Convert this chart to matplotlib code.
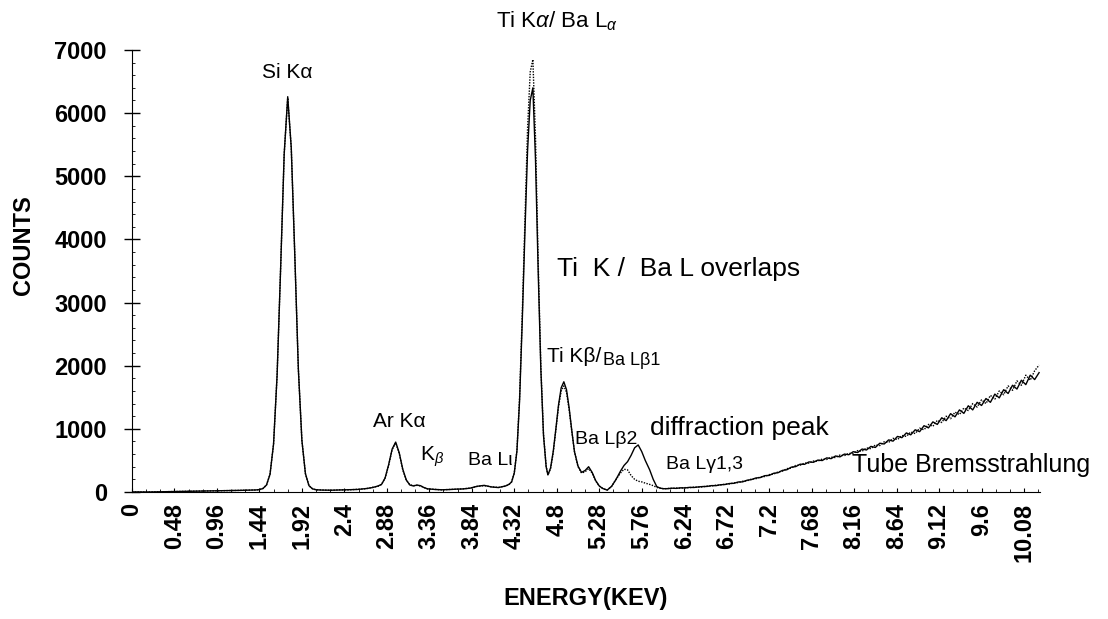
import matplotlib
matplotlib.use('Agg')
import matplotlib.pyplot as plt
from matplotlib.ticker import MultipleLocator

plt.rcParams['font.family'] = ['Liberation Sans', 'DejaVu Sans']
plt.rcParams['mathtext.fontset'] = 'custom'
plt.rcParams['mathtext.rm'] = 'Liberation Sans'
plt.rcParams['mathtext.it'] = 'Liberation Sans:italic'

# spectrum (keV, counts)
energy_kev = [
    0.0, 0.1, 0.2, 0.3, 0.4, 0.5, 0.6, 0.7, 0.8, 0.9, 1.0, 1.1, 1.2, 1.3, 1.4,
    1.44, 1.48, 1.52, 1.56, 1.60, 1.64, 1.68, 1.72, 1.76, 1.80, 1.84, 1.88, 1.92, 1.96, 2.00, 2.04, 2.08,
    2.15, 2.25, 2.35, 2.45, 2.55, 2.65, 2.72, 2.78,
    2.82, 2.86, 2.90, 2.94, 2.98, 3.02, 3.06, 3.10, 3.14, 3.18, 3.22, 3.26, 3.30, 3.34,
    3.42, 3.50, 3.58, 3.66, 3.74, 3.82, 3.90, 3.98, 4.06, 4.14, 4.22,
    4.26, 4.29, 4.32, 4.35, 4.38, 4.41, 4.44, 4.47, 4.50, 4.53, 4.56, 4.59, 4.62, 4.65, 4.68, 4.70,
    4.73, 4.76, 4.79, 4.82, 4.85, 4.88, 4.91, 4.94, 4.97, 5.00, 5.04, 5.08, 5.12, 5.16, 5.20, 5.24, 5.28, 5.32, 5.37,
    5.42, 5.47, 5.52, 5.56, 5.60, 5.64, 5.68, 5.72, 5.76, 5.80, 5.85, 5.89, 5.93, 5.97, 6.01,
    6.05, 6.10, 6.15, 6.20, 6.25, 6.30, 6.35, 6.40, 6.45, 6.50, 6.55, 6.60, 6.65, 6.70, 6.75, 6.80, 6.85,
    6.90, 6.95, 7.00, 7.05, 7.10, 7.15, 7.20, 7.25, 7.30, 7.35, 7.40, 7.45, 7.50, 7.55, 7.60, 7.65, 7.70,
    7.75, 7.80, 7.85, 7.90, 7.95, 8.00, 8.05, 8.10, 8.15, 8.20, 8.25, 8.30, 8.35, 8.40, 8.45, 8.50, 8.55,
    8.60, 8.65, 8.70, 8.75, 8.80, 8.85, 8.90, 8.95, 9.00, 9.05, 9.10, 9.15, 9.20, 9.25, 9.30, 9.35, 9.40,
    9.45, 9.50, 9.55, 9.60, 9.65, 9.70, 9.75, 9.80, 9.85, 9.90, 9.95, 10.00, 10.05, 10.10, 10.15, 10.20, 10.25,
]

counts_solid = [
    0, 0, 0, 2, 5, 8, 10, 12, 15, 18, 20, 22, 25, 28, 32,
    38, 55, 110, 280, 760, 1850, 3550, 5350, 6260, 5450, 3750, 1950, 820, 290, 100, 50, 35,
    30, 28, 32, 35, 40, 55, 70, 95,
    120, 220, 430, 680, 790, 620, 360, 190, 110, 95, 110, 100, 70, 50,
    40, 35, 38, 45, 48, 60, 90, 105, 80, 70, 95,
    120, 160, 300, 650, 1450, 2700, 4100, 5400, 6200, 6400, 5250, 3500, 1950, 900, 400, 270,
    380, 640, 1000, 1380, 1650, 1745, 1620, 1330, 970, 640, 410, 310, 340, 400, 310, 180, 95, 55, 30,
    90, 200, 330, 420, 480, 580, 700, 745, 640, 500, 350, 200, 85, 60, 52,
    52, 60, 57, 66, 64, 73, 71, 80, 86, 88, 101, 100, 115, 118, 134, 137, 158,
    160, 186, 196, 222, 228, 258, 262, 296, 305, 342, 352, 393, 402, 440, 438, 476, 470,
    505, 498, 540, 528, 570, 556, 600, 590, 638, 625, 680, 665, 722, 705, 772, 760, 825,
    805, 880, 860, 935, 905, 985, 955, 1050, 1015, 1110, 1070, 1175, 1130, 1240, 1190, 1300, 1245,
    1365, 1300, 1420, 1370, 1480, 1420, 1550, 1490, 1620, 1560, 1690, 1630, 1770, 1700, 1850, 1780, 1890,
]

counts_dotted = [
    0, 0, 0, 2, 5, 8, 10, 12, 15, 18, 20, 22, 25, 28, 32,
    38, 55, 110, 280, 760, 1850, 3550, 5350, 6240, 5450, 3750, 1950, 820, 290, 100, 50, 35,
    32, 26, 34, 33, 42, 52, 75, 90,
    120, 220, 420, 670, 780, 610, 350, 185, 115, 100, 105, 95, 72, 48,
    42, 33, 40, 43, 50, 62, 88, 100, 82, 72, 92,
    120, 160, 300, 660, 1500, 2800, 4300, 5750, 6650, 6850, 5600, 3650, 2000, 920, 410, 270,
    370, 620, 980, 1350, 1600, 1680, 1580, 1300, 960, 640, 400, 300, 320, 370, 300, 175, 95, 55, 30,
    90, 200, 300, 360, 350, 260, 200, 170, 160, 140, 120, 100, 72, 60, 50,
    56, 57, 62, 61, 69, 68, 77, 77, 81, 93, 95, 108, 110, 124, 127, 144, 148,
    170, 176, 205, 210, 238, 245, 275, 282, 318, 330, 370, 378, 420, 425, 458, 458, 490,
    488, 522, 515, 552, 545, 585, 575, 612, 608, 655, 645, 698, 685, 745, 735, 795, 785,
    850, 830, 895, 880, 950, 925, 1010, 985, 1070, 1040, 1135, 1100, 1200, 1160, 1265, 1225, 1330,
    1290, 1400, 1345, 1460, 1400, 1530, 1470, 1600, 1540, 1680, 1610, 1760, 1690, 1850, 1770, 1920, 2010,
]

tick_values = [0, 0.48, 0.96, 1.44, 1.92, 2.4, 2.88, 3.36, 3.84, 4.32, 4.8, 5.28,
               5.76, 6.24, 6.72, 7.2, 7.68, 8.16, 8.64, 9.12, 9.6, 10.08]
tick_labels = ['0', '0.48', '0.96', '1.44', '1.92', '2.4', '2.88', '3.36', '3.84', '4.32', '4.8',
               '5.28', '5.76', '6.24', '6.72', '7.2', '7.68', '8.16', '8.64', '9.12', '9.6', '10.08']

fig = plt.figure(figsize=(11.08, 6.19), dpi=100)
ax = fig.add_axes([0.1191, 0.2052, 0.8195, 0.7141])

ax.plot(energy_kev, counts_solid, color='black', lw=1.0)
ax.plot(energy_kev, counts_dotted, color='black', lw=1.0, linestyle=(0, (1, 1)))

ax.set_xlim(0, 10.26)
ax.set_ylim(0, 7000)
for side in ['top', 'right']:
    ax.spines[side].set_visible(False)

ax.set_xticks(tick_values)
ax.set_xticklabels(tick_labels, rotation=90, fontsize=17, fontweight='bold')
ax.xaxis.set_minor_locator(MultipleLocator(0.16))
ax.tick_params(axis='x', which='major', direction='in', length=3, pad=8)
ax.tick_params(axis='x', which='minor', direction='in', length=2)

ax.set_yticks(range(0, 7001, 1000))
ax.set_yticklabels([str(v) for v in range(0, 7001, 1000)], fontsize=17, fontweight='bold')
ax.yaxis.set_minor_locator(MultipleLocator(200))
ax.tick_params(axis='y', which='major', direction='inout', length=12, width=1, pad=12)
ax.tick_params(axis='y', which='minor', direction='in', length=2)

fig.text(24 / 1108, 1 - 245 / 619, 'COUNTS', rotation=90, fontsize=17, fontweight='bold',
         ha='center', va='center')
fig.text(586 / 1108, 1 - 598 / 619, 'ENERGY(KEV)', fontsize=17, fontweight='bold',
         ha='center', va='center')

# peak labels
ax.text(1.76, 6640, 'Si K\u03b1', fontsize=15, ha='center', va='center')
ax.text(4.80, 7450, r'Ti K$\alpha$/ Ba L$_\alpha$', fontsize=16, ha='center', va='center',
        clip_on=False)
ax.text(4.80, 3530, 'Ti  K /  Ba L overlaps', fontsize=19, ha='left', va='center')
ax.text(4.69, 2150, 'Ti K\u03b2/', fontsize=15, ha='left', va='center')
ax.text(5.32, 2080, 'Ba L\u03b21', fontsize=13, ha='left', va='center')
ax.text(3.02, 1110, 'Ar K\u03b1', fontsize=15, ha='center', va='center')
ax.text(3.39, 560, r'K$_\beta$', fontsize=15, ha='center', va='center')
ax.text(4.05, 500, 'Ba L\u03b9', fontsize=14, ha='center', va='center')
ax.text(5.36, 830, 'Ba L\u03b22', fontsize=14, ha='center', va='center')
ax.text(5.85, 1010, 'diffraction peak', fontsize=19, ha='left', va='center')
ax.text(6.03, 440, 'Ba L\u03b31,3', fontsize=14, ha='left', va='center')
ax.text(8.14, 430, 'Tube Bremsstrahlung', fontsize=18, ha='left', va='center', clip_on=False)

fig.savefig('out.png', dpi=100)
